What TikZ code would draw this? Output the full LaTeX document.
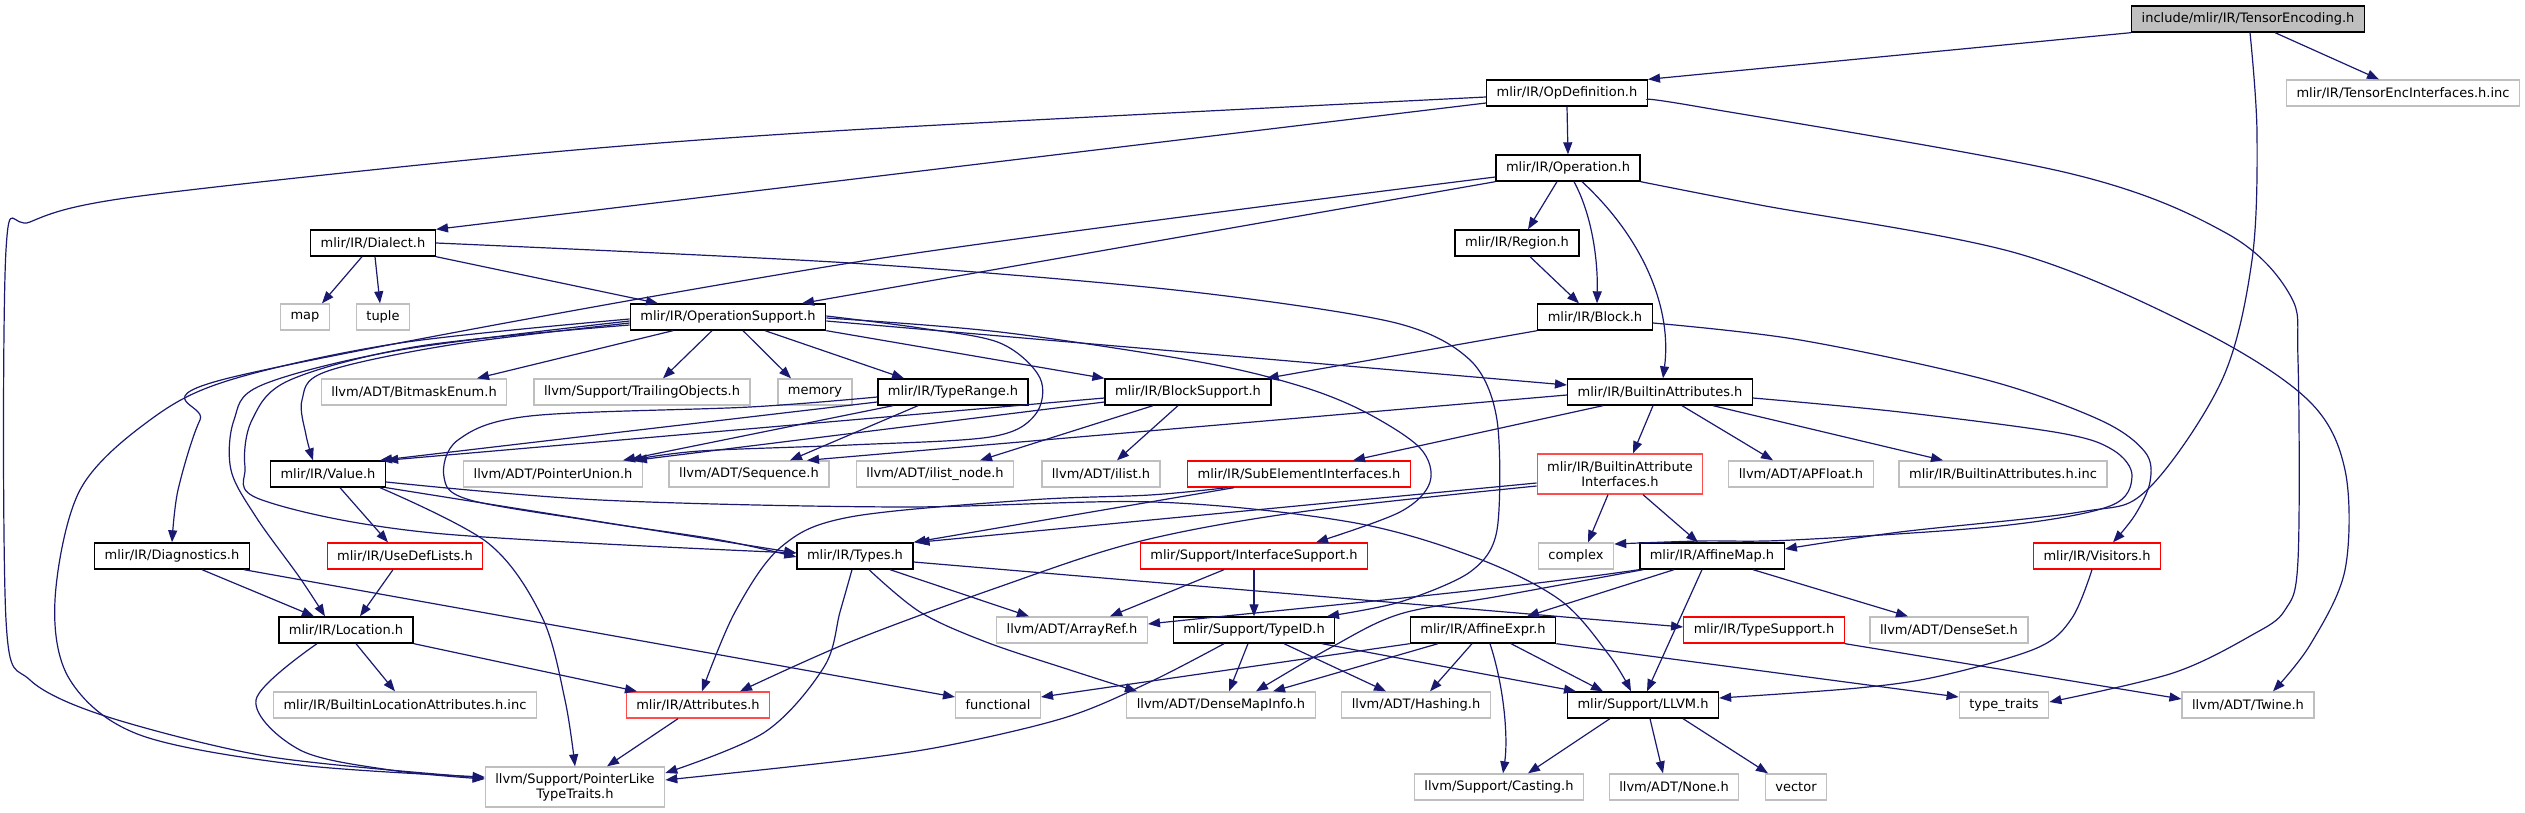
\documentclass[tikz,border=0pt]{standalone}
\usepackage{fontspec}
\setmainfont{DejaVu Sans}
\usetikzlibrary{arrows.meta}
\definecolor{edgeblue}{HTML}{191970}
\definecolor{boxgray}{HTML}{BFBFBF}
\definecolor{softred}{HTML}{FF4D4D}
\begin{document}
\begin{tikzpicture}[x=1pt,y=-1pt,font=\fontsize{13}{15}\selectfont,
  hdr/.style={draw=black,line width=1.35pt,fill=white,minimum height=26,inner xsep=10,inner ysep=0,align=center},
  sys/.style={hdr,draw=boxgray},
  trunc/.style={hdr,draw=red},
  root/.style={hdr,fill=boxgray},
  inc/.style={draw=edgeblue,line width=1.2pt,-{Triangle[length=12pt,width=9pt]}}]
\useasboundingbox (0,0) rectangle (2525,813);
\node[root] (te) at (2248,19) {include/mlir/IR/TensorEncoding.h};
\node[sys] (tei) at (2403,93) {mlir/IR/TensorEncInterfaces.h.inc};
\node[hdr] (opdef) at (1567,93) {mlir/IR/OpDefinition.h};
\node[hdr] (operation) at (1568,168) {mlir/IR/Operation.h};
\node[hdr] (dialect) at (373,243) {mlir/IR/Dialect.h};
\node[hdr] (region) at (1517,243) {mlir/IR/Region.h};
\node[sys] (map) at (305,317) {map};
\node[sys] (tuple) at (383,317) {tuple};
\node[hdr] (opsupport) at (728,317) {mlir/IR/OperationSupport.h};
\node[hdr] (block) at (1595,317) {mlir/IR/Block.h};
\node[sys] (bitmask) at (414,392) {llvm/ADT/BitmaskEnum.h};
\node[sys] (trailing) at (642,392) {llvm/Support/TrailingObjects.h};
\node[sys] (memory) at (815,392) {memory};
\node[hdr] (typerange) at (953,392) {mlir/IR/TypeRange.h};
\node[hdr] (blocksupport) at (1188,392) {mlir/IR/BlockSupport.h};
\node[hdr] (battrs) at (1660,392) {mlir/IR/BuiltinAttributes.h};
\node[hdr] (value) at (328,474) {mlir/IR/Value.h};
\node[sys] (ptrunion) at (553,474) {llvm/ADT/PointerUnion.h};
\node[sys] (sequence) at (749,474) {llvm/ADT/Sequence.h};
\node[sys] (ilistnode) at (935,474) {llvm/ADT/ilist\_node.h};
\node[sys] (ilist) at (1101,474) {llvm/ADT/ilist.h};
\node[trunc] (subelem) at (1299,474) {mlir/IR/SubElementInterfaces.h};
\node[trunc,draw=softred,minimum height=40] (bai) at (1620,474) {mlir/IR/BuiltinAttribute\\Interfaces.h};
\node[sys] (apfloat) at (1801,474) {llvm/ADT/APFloat.h};
\node[sys] (battrsinc) at (2003,474) {mlir/IR/BuiltinAttributes.h.inc};
\node[hdr] (diagnostics) at (172,556) {mlir/IR/Diagnostics.h};
\node[trunc] (usedef) at (405,556) {mlir/IR/UseDefLists.h};
\node[hdr] (types) at (855,556) {mlir/IR/Types.h};
\node[trunc] (ifsupport) at (1254,556) {mlir/Support/InterfaceSupport.h};
\node[sys] (complex) at (1576,556) {complex};
\node[hdr] (affinemap) at (1712,556) {mlir/IR/AffineMap.h};
\node[trunc] (visitors) at (2097,556) {mlir/IR/Visitors.h};
\node[hdr] (location) at (346,630) {mlir/IR/Location.h};
\node[sys] (arrayref) at (1072,630) {llvm/ADT/ArrayRef.h};
\node[hdr] (typeid) at (1254,630) {mlir/Support/TypeID.h};
\node[hdr] (affineexpr) at (1483,630) {mlir/IR/AffineExpr.h};
\node[trunc] (typesupport) at (1764,630) {mlir/IR/TypeSupport.h};
\node[sys] (denseset) at (1949,630) {llvm/ADT/DenseSet.h};
\node[sys] (blattrsinc) at (405,705) {mlir/IR/BuiltinLocationAttributes.h.inc};
\node[trunc,draw=softred] (attributes) at (698,705) {mlir/IR/Attributes.h};
\node[sys] (functional) at (998,705) {functional};
\node[sys] (densemapinfo) at (1221,705) {llvm/ADT/DenseMapInfo.h};
\node[sys] (hashing) at (1416,705) {llvm/ADT/Hashing.h};
\node[hdr] (llvmh) at (1643,705) {mlir/Support/LLVM.h};
\node[sys] (typetraits) at (2004,705) {type\_traits};
\node[sys] (twine) at (2248,705) {llvm/ADT/Twine.h};
\node[sys,minimum height=40] (ptrlike) at (575,787) {llvm/Support/PointerLike\\TypeTraits.h};
\node[sys] (casting) at (1499,787) {llvm/Support/Casting.h};
\node[sys] (llnone) at (1674,787) {llvm/ADT/None.h};
\node[sys] (vector) at (1796,787) {vector};
\draw[inc] (te.south west) -- (opdef.north east);
\draw[inc] ([xshift=27]te.south) -- ([xshift=-24]tei.north);
\draw[inc] plot[smooth,tension=.55] coordinates {([xshift=2]te.south) (2257,133) (2252,260) (2222,380) (2147,490) (2080,512) (1900,532) ([yshift=7]affinemap.east)};
\draw[inc] ([yshift=-10]opdef.west) -- (dialect.north east);
\draw[inc] plot[smooth,tension=.5] coordinates {([yshift=-4]opdef.west) (850,130) (520,155) (133,197) (30,222) (6,250) (6,620) (30,680) (108,717) (271,757) ([yshift=9]ptrlike.west)};
\draw[inc] (opdef.south) -- (operation.north);
\draw[inc] plot[smooth,tension=.55] coordinates {([yshift=-7]opdef.east) (1700,107) (2068,173) (2226,233) (2290,295) (2298,360) (2298,560) (2285,610) (2252,635) (2173,673) ([yshift=3]typetraits.east)};
\draw[inc] ([xshift=-11]operation.south) -- ([xshift=11]region.north);
\draw[inc] ([xshift=6]operation.south) .. controls (1592,215) and (1598,260) .. ([xshift=2]block.north);
\draw[inc] ([xshift=14]operation.south) .. controls (1645,240) and (1672,310) .. ([xshift=3]battrs.north);
\draw[inc] plot[smooth,tension=.55] coordinates {(operation.south east) (1760,205) (2016,253) (2200,330) (2308,400) (2345,470) (2345,570) (2310,645) ([xshift=25]twine.north)};
\draw[inc] (operation.south west) -- ([xshift=74]opsupport.north);
\draw[inc] plot[smooth,tension=.5] coordinates {([yshift=-9]operation.west) (850,263) (233,377) (200,420) (178,490) (diagnostics.north)};
\draw[inc] ([xshift=-11]dialect.south) -- ([xshift=17]map.north);
\draw[inc] ([xshift=2]dialect.south) -- ([xshift=-3]tuple.north);
\draw[inc] (dialect.south east) -- ([xshift=-70]opsupport.north);
\draw[inc] plot[smooth,tension=.5] coordinates {(dialect.east) (850,263) (1175,290) (1392,322) (1470,360) (1497,420) (1497,530) (1470,572) (1400,602) ([xshift=73]typeid.north)};
\draw[inc] ([xshift=-55]opsupport.south) -- ([xshift=63]bitmask.north);
\draw[inc] ([xshift=-16]opsupport.south) -- ([xshift=21]trailing.north);
\draw[inc] ([xshift=15]opsupport.south) -- ([xshift=-24]memory.north);
\draw[inc] ([xshift=37]opsupport.south) -- ([xshift=-49]typerange.north);
\draw[inc] (opsupport.south east) -- (blocksupport.north west);
\draw[inc] ([yshift=-4]opsupport.east) -- ([yshift=7]battrs.west);
\draw[inc] plot[smooth,tension=.55] coordinates {([yshift=-1]opsupport.east) (1000,332) (1200,362) (1300,386) (1365,412) (1420,448) (1430,482) (1400,512) ([xshift=62]ifsupport.north)};
\draw[inc] plot[smooth,tension=.55] coordinates {([yshift=1]opsupport.east) (920,328) (1000,343) (1040,378) (1035,415) (990,437) (850,445) (700,451) ([xshift=77]ptrunion.north)};
\draw[inc] plot[smooth,tension=.55] coordinates {([yshift=-6]opsupport.west) (450,345) (325,372) (302,400) (306,435) ([xshift=-15]value.north)};
\draw[inc] plot[smooth,tension=.55] coordinates {([yshift=-4]opsupport.west) (400,350) (262,385) (234,420) (231,470) (256,517) (300,578) ([xshift=-21]location.north)};
\draw[inc] plot[smooth,tension=.55] coordinates {([yshift=-8]opsupport.west) (420,346) (290,380) (252,420) (245,467) (262,500) (433,533) ([yshift=3]types.west)};
\draw[inc] plot[smooth,tension=.55] coordinates {([yshift=-2]opsupport.west) (400,343) (230,380) (150,420) (80,490) (55,600) (70,680) (140,735) (300,765) ([yshift=10]ptrlike.west)};
\draw[inc] ([yshift=-10]typerange.west) -- ([xshift=52]value.north);
\draw[inc] ([xshift=-60]typerange.south) -- ([xshift=70]ptrunion.north);
\draw[inc] ([xshift=-35]typerange.south) -- ([xshift=41]sequence.north);
\draw[inc] plot[smooth,tension=.55] coordinates {([yshift=-5]typerange.west) (750,407) (530,416) (458,440) (444,477) (470,500) (600,522) (720,540) ([yshift=-1]types.west)};
\draw[inc] ([yshift=-6]blocksupport.west) -- (value.north east);
\draw[inc] ([yshift=-10]blocksupport.west) -- ([xshift=82]ptrunion.north);
\draw[inc] ([xshift=-35]blocksupport.south) -- ([xshift=45]ilistnode.north);
\draw[inc] ([xshift=-10]blocksupport.south) -- ([xshift=16]ilist.north);
\draw[inc] ([yshift=-3]battrs.west) -- ([xshift=58]sequence.north);
\draw[inc] ([xshift=-57]battrs.south) -- ([xshift=54]subelem.north);
\draw[inc] ([xshift=-7]battrs.south) -- ([xshift=13]bai.north);
\draw[inc] ([xshift=22]battrs.south) -- ([xshift=-28]apfloat.north);
\draw[inc] ([xshift=53]battrs.south) -- ([xshift=-60]battrsinc.north);
\draw[inc] plot[smooth,tension=.55] coordinates {([yshift=-6]battrs.east) (1900,412) (2060,433) (2113,450) (2132,476) (2110,506) (2000,526) (1793,540) (1700,541) ([yshift=12]complex.east)};
\draw[inc] (block.south west) -- ([xshift=-5]blocksupport.north east);
\draw[inc] plot[smooth,tension=.55] coordinates {([yshift=-6]block.east) (1800,340) (1987,380) (2100,420) (2145,452) (2150,482) (2135,515) ([xshift=16]visitors.north)};
\draw[inc] ([xshift=13]region.south) -- ([xshift=-16]block.north);
\draw[inc] ([xshift=-65]subelem.south) -- (types.north east);
\draw[inc] plot[smooth,tension=.55] coordinates {([xshift=-72]subelem.south) (1150,495) (1029,500) (850,517) (781,547) (735,612) ([xshift=4]attributes.north)};
\draw[inc] ([yshift=-9]bai.west) -- ([xshift=4]types.north east);
\draw[inc] plot[smooth,tension=.55] coordinates {([yshift=-12]bai.west) (1300,512) (1137,542) (996,588) (850,642) ([xshift=42]attributes.north)};
\draw[inc] ([xshift=-12]bai.south) -- ([xshift=12]complex.north);
\draw[inc] ([xshift=23]bai.south) -- ([xshift=-14]affinemap.north);
\draw[inc] ([xshift=12]value.south) -- ([xshift=-17]usedef.north);
\draw[inc] plot[smooth,tension=.55] coordinates {([xshift=52]value.south) (488,543) (542,617) (565,700) (ptrlike.north)};
\draw[inc] (value.south east) -- ([yshift=3]types.west);
\draw[inc] plot[smooth,tension=.55] coordinates {([yshift=-8]value.east) (600,500) (900,507) (1154,502) (1350,522) (1474,557) (1560,600) (1609,655) ([xshift=-12]llvmh.north)};
\draw[inc] ([xshift=-12]usedef.south) -- ([xshift=14]location.north);
\draw[inc] ([xshift=30]diagnostics.south) -- ([xshift=-32]location.north);
\draw[inc] ([xshift=72]diagnostics.south) -- ([yshift=8]functional.west);
\draw[inc] ([xshift=10]location.south) -- ([xshift=-10]blattrsinc.north);
\draw[inc] (location.south east) -- ([xshift=-61]attributes.north);
\draw[inc] plot[smooth,tension=.55] coordinates {([xshift=-29]location.south) (256,700) (300,750) (390,770) ([yshift=8]ptrlike.west)};
\draw[inc] ([xshift=-20]attributes.south) -- ([xshift=32]ptrlike.north);
\draw[inc] plot[smooth,tension=.55] coordinates {([xshift=-3]types.south) (840,612) (824,667) (765,732) ([yshift=14]ptrlike.east)};
\draw[inc] ([xshift=35]types.south) -- ([xshift=-43]arrayref.north);
\draw[inc] plot[smooth,tension=.55] coordinates {([xshift=14]types.south) (920,612) (986,642) (1070,670) ([xshift=-84]densemapinfo.north)};
\draw[inc] ([yshift=-6]types.east) -- ([yshift=3]typesupport.west);
\draw[inc] plot[smooth,tension=.55] coordinates {([xshift=-30]typeid.south) (1150,682) (1067,717) (950,745) (850,760) ([yshift=7]ptrlike.east)};
\draw[inc] ([xshift=-6]typeid.south) -- ([xshift=8]densemapinfo.north);
\draw[inc] ([xshift=30]typeid.south) -- ([xshift=-30]hashing.north);
\draw[inc] ([xshift=68]typeid.south) -- ([xshift=-67]llvmh.north);
\draw[inc] ([xshift=-30]ifsupport.south) -- ([xshift=38]arrayref.north);
\draw[inc] (ifsupport.south) -- (typeid.north);
\draw[inc] (affinemap.south west) .. controls (1500,590) and (1300,608) .. ([yshift=6]arrayref.east);
\draw[inc] plot[smooth,tension=.55] coordinates {([xshift=4]affinemap.south west) (1500,596) (1400,614) (1330,648) ([xshift=35]densemapinfo.north)};
\draw[inc] ([xshift=-38]affinemap.south) -- ([xshift=44]affineexpr.north);
\draw[inc] ([xshift=-10]affinemap.south) -- ([xshift=4]llvmh.north);
\draw[inc] ([xshift=41]affinemap.south) -- ([xshift=-41]denseset.north);
\draw[inc] (affineexpr.south west) -- ([yshift=8]functional.east);
\draw[inc] ([xshift=-45]affineexpr.south) -- ([xshift=52]densemapinfo.north);
\draw[inc] ([xshift=-11]affineexpr.south) -- ([xshift=14]hashing.north);
\draw[inc] ([xshift=7]affineexpr.south) .. controls (1505,690) and (1508,740) .. ([xshift=4]casting.north);
\draw[inc] ([xshift=28]affineexpr.south) -- ([xshift=-40]llvmh.north);
\draw[inc] (affineexpr.south east) -- ([yshift=8]typetraits.west);
\draw[inc] ([xshift=-33]llvmh.south) -- ([xshift=29]casting.north);
\draw[inc] ([xshift=7]llvmh.south) -- ([xshift=-11]llnone.north);
\draw[inc] ([xshift=40]llvmh.south) -- ([xshift=-28]vector.north);
\draw[inc] plot[smooth,tension=.55] coordinates {([xshift=-5]visitors.south) (2072,618) (2037,648) (1940,676) (1858,688) ([yshift=7]llvmh.east)};
\draw[inc] (typesupport.south east) -- ([yshift=6]twine.west);
\end{tikzpicture}
\end{document}
